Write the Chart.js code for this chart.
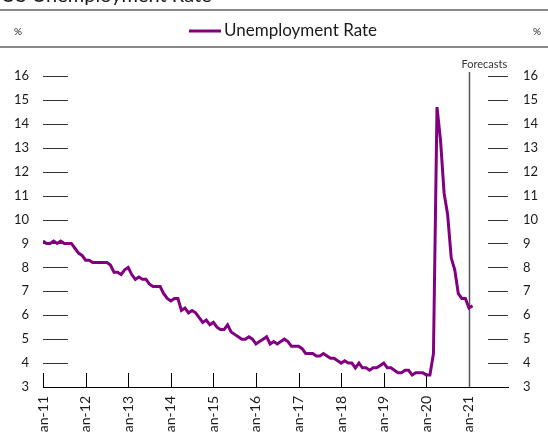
<!DOCTYPE html>
<html>
<head>
<meta charset="utf-8">
<script src="https://cdn.jsdelivr.net/npm/chart.js@4"></script>
<style>
  html, body { margin: 0; padding: 0; background: #fff; overflow: hidden; }
  #wrap { position: relative; width: 548px; height: 432px; }
</style>
</head>
<body>
<div id="wrap"><canvas id="c" width="548" height="432"></canvas></div>
<script>
// Text
const chartTitle = 'US Unemployment Rate';
const seriesName = 'Unemployment Rate';
const unitLabel = '%';
const forecastLabel = 'Forecasts';

// Monthly unemployment rate (%), January to December of each year
const rate2011 = [9.1, 9.0, 9.0, 9.1, 9.0, 9.1, 9.0, 9.0, 9.0, 8.8, 8.6, 8.5];
const rate2012 = [8.3, 8.3, 8.2, 8.2, 8.2, 8.2, 8.2, 8.1, 7.8, 7.8, 7.7, 7.9];
const rate2013 = [8.0, 7.7, 7.5, 7.6, 7.5, 7.5, 7.3, 7.2, 7.2, 7.2, 6.9, 6.7];
const rate2014 = [6.6, 6.7, 6.7, 6.2, 6.3, 6.1, 6.2, 6.1, 5.9, 5.7, 5.8, 5.6];
const rate2015 = [5.7, 5.5, 5.4, 5.4, 5.6, 5.3, 5.2, 5.1, 5.0, 5.0, 5.1, 5.0];
const rate2016 = [4.8, 4.9, 5.0, 5.1, 4.8, 4.9, 4.8, 4.9, 5.0, 4.9, 4.7, 4.7];
const rate2017 = [4.7, 4.6, 4.4, 4.4, 4.4, 4.3, 4.3, 4.4, 4.3, 4.2, 4.2, 4.1];
const rate2018 = [4.0, 4.1, 4.0, 4.0, 3.8, 4.0, 3.8, 3.8, 3.7, 3.8, 3.8, 3.9];
const rate2019 = [4.0, 3.8, 3.8, 3.7, 3.6, 3.6, 3.7, 3.7, 3.5, 3.6, 3.6, 3.6];
const rate2020 = [3.5, 3.5, 4.4, 14.7, 13.3, 11.1, 10.2, 8.4, 7.9, 6.9, 6.7, 6.7];
const rate2021 = [6.3, 6.4];

const unemploymentRate = [].concat(
  rate2011, rate2012, rate2013, rate2014, rate2015, rate2016,
  rate2017, rate2018, rate2019, rate2020, rate2021
);

// Axis labels
const yearLabels = ['Jan-11', 'Jan-12', 'Jan-13', 'Jan-14', 'Jan-15', 'Jan-16',
                    'Jan-17', 'Jan-18', 'Jan-19', 'Jan-20', 'Jan-21'];
const yTickValues = [3, 4, 5, 6, 7, 8, 9, 10, 11, 12, 13, 14, 15, 16];
const lastMonthIndex = 131;      // Dec-21, end of the time axis
const forecastMonthIndex = 120;  // Jan-21, start of forecasts

const FONT = 'Lato, "Liberation Sans", sans-serif';
const TEXT = '#1a1a1a';
const PURPLE = '#800080';

const points = unemploymentRate.map((v, i) => ({ x: i, y: v }));

const decorPlugin = {
  id: 'decor',
  beforeDatasetsDraw(chart) {
    const { ctx, chartArea, scales } = chart;
    const xs = scales.x, yl = scales.y;
    ctx.save();
    // short gridline dashes next to both value axes
    ctx.strokeStyle = '#333';
    ctx.lineWidth = 1;
    yTickValues.forEach(v => {
      if (v === yTickValues[0]) return;
      const y = Math.round(yl.getPixelForValue(v)) + 0.5;
      ctx.beginPath();
      ctx.moveTo(chartArea.left, y);
      ctx.lineTo(chartArea.left + 25, y);
      ctx.moveTo(chartArea.right - 20, y);
      ctx.lineTo(chartArea.right, y);
      ctx.stroke();
    });
    // year tick marks standing on the time axis
    ctx.strokeStyle = '#000';
    yearLabels.forEach((_, i) => {
      const x = Math.round(xs.getPixelForValue(i * 12)) + 0.5;
      ctx.beginPath();
      ctx.moveTo(x, chartArea.bottom - 14);
      ctx.lineTo(x, chartArea.bottom);
      ctx.stroke();
    });
    // forecast divider
    const fx = Math.round(xs.getPixelForValue(forecastMonthIndex)) + 0.5;
    ctx.strokeStyle = '#555';
    ctx.lineWidth = 1.5;
    ctx.beginPath();
    ctx.moveTo(fx, 72);
    ctx.lineTo(fx, chartArea.bottom);
    ctx.stroke();
    ctx.fillStyle = '#333';
    ctx.font = '11px ' + FONT;
    ctx.textBaseline = 'alphabetic';
    ctx.textAlign = 'left';
    ctx.fillText(forecastLabel, fx - 8, 68);
    ctx.restore();
  },
  afterDraw(chart) {
    const { ctx } = chart;
    ctx.save();
    // title (sits at the very top edge)
    ctx.fillStyle = TEXT;
    ctx.font = '20px ' + FONT;
    ctx.textAlign = 'left';
    ctx.textBaseline = 'alphabetic';
    ctx.fillText(chartTitle, 1, 2);
    // header rules
    ctx.strokeStyle = '#888';
    ctx.lineWidth = 2;
    [10, 47].forEach(y => {
      ctx.beginPath();
      ctx.moveTo(0, y);
      ctx.lineTo(548, y);
      ctx.stroke();
    });
    // legend
    ctx.strokeStyle = PURPLE;
    ctx.lineWidth = 3;
    ctx.beginPath();
    ctx.moveTo(189, 31);
    ctx.lineTo(221, 31);
    ctx.stroke();
    ctx.font = '17px ' + FONT;
    ctx.textBaseline = 'middle';
    ctx.fillText(seriesName, 224, 31);
    // unit labels
    ctx.font = '10px ' + FONT;
    ctx.fillText(unitLabel, 14, 32);
    ctx.fillText(unitLabel, 533, 32);
    ctx.restore();
  }
};

new Chart(document.getElementById('c'), {
  type: 'line',
  data: {
    datasets: [{
      label: seriesName,
      data: points,
      borderColor: PURPLE,
      borderWidth: 3,
      pointRadius: 0,
      tension: 0,
      fill: false,
      yAxisID: 'y'
    }]
  },
  options: {
    responsive: false,
    animation: false,
    devicePixelRatio: 1,
    layout: { padding: { top: 76, left: 0, right: 0, bottom: 0 } },
    plugins: { legend: { display: false }, title: { display: false }, tooltip: { enabled: false } },
    scales: {
      x: {
        type: 'linear',
        min: 0,
        max: lastMonthIndex,
        afterBuildTicks(scale) {
          scale.ticks = yearLabels.map((_, i) => ({ value: i * 12 }));
        },
        ticks: {
          autoSkip: false,
          maxRotation: 90,
          minRotation: 90,
          padding: 9,
          color: TEXT,
          font: { family: FONT, size: 14 },
          callback: v => yearLabels[Math.round(v / 12)]
        },
        grid: { display: false, drawTicks: false },
        border: { display: true, color: '#000', width: 1 },
        afterFit(scale) { scale.height = 45; }
      },
      y: {
        position: 'left',
        min: 3,
        max: 16,
        afterBuildTicks(scale) { scale.ticks = yTickValues.map(v => ({ value: v })); },
        ticks: { padding: 14, color: TEXT, font: { family: FONT, size: 13 } },
        grid: { display: false, drawTicks: false },
        border: { display: false },
        afterFit(scale) { scale.width = 43; }
      },
      y2: {
        position: 'right',
        min: 3,
        max: 16,
        afterBuildTicks(scale) { scale.ticks = yTickValues.map(v => ({ value: v })); },
        ticks: { padding: 15, color: TEXT, font: { family: FONT, size: 13 } },
        grid: { display: false, drawTicks: false },
        border: { display: false },
        afterFit(scale) { scale.width = 40; }
      }
    }
  },
  plugins: [decorPlugin]
});
</script>
</body>
</html>
